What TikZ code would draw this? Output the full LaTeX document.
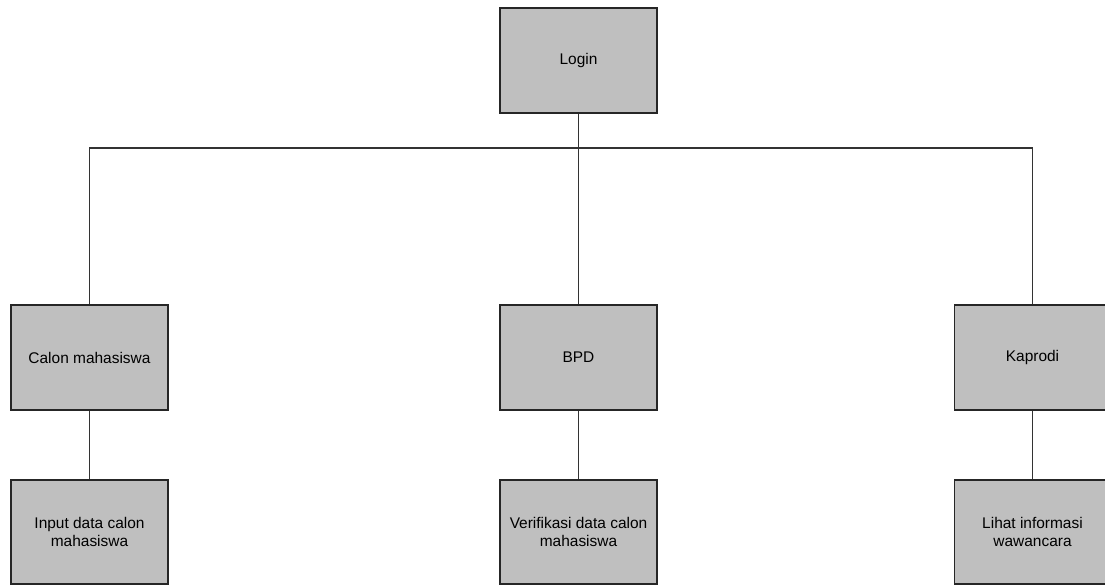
\documentclass[tikz,border=0pt]{standalone}
\usepackage{fontspec}
\setmainfont{Liberation Sans}
\usetikzlibrary{positioning}

\tikzset{
    menubox/.style={draw=black!85, fill=black!25, line width=0.6pt,
        minimum width=3.14cm, minimum height=2.1cm, align=center,
        inner sep=0pt, font=\fontsize{8.8}{10.5}\selectfont},
    link/.style={draw=black!80, line width=0.6pt}
}

\begin{document}
\begin{tikzpicture}[x=0.02cm, y=-0.02cm]
            \useasboundingbox (0,0) rectangle (1105,585);

            % Top
            \node[menubox] (login) at (578.5,60.5) {Login};

            % Users
            \node[menubox] (calon) at (89.5,357.5) {Calon mahasiswa};
            \node[menubox] (bpd) at (578.5,357.5) {BPD};
            \node[menubox] (kaprodi) at (1032.5,357.5) {Kaprodi};

            % Menus
            \node[menubox, minimum height=2.08cm] (input) at (89.5,532) {Input data calon\\mahasiswa};
            \node[menubox, minimum height=2.08cm] (verif) at (578.5,532) {Verifikasi data calon\\mahasiswa};
            \node[menubox, minimum height=2.08cm] (lihat) at (1032.5,532) {Lihat informasi\\wawancara};

            % Lines
            \coordinate (bus) at (578.5,148);
            \draw[link] (login.south) -- (bus);
            \draw[link] (calon.north) |- (bus) -| (kaprodi.north);
            \draw[link] (bus) -- (bpd.north);
            \draw[link] (calon) -- (input);
            \draw[link] (bpd) -- (verif);
            \draw[link] (kaprodi) -- (lihat);
        \end{tikzpicture}
\end{document}
